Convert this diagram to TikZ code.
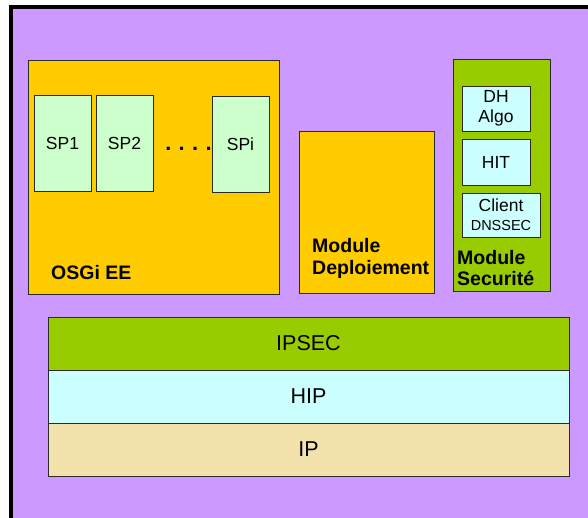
\documentclass[tikz,border=0pt]{standalone}
\usepackage{fontspec}
\setmainfont{Liberation Sans}
\usepackage{xcolor}
\definecolor{lilac}{HTML}{CC99FF}
\definecolor{amber}{HTML}{FFCC00}
\definecolor{mint}{HTML}{CCFFCC}
\definecolor{leaf}{HTML}{99CC00}
\definecolor{ice}{HTML}{CCFFFF}
\definecolor{sand}{HTML}{F3E2AC}
\definecolor{edge}{HTML}{2A2A2A}
\usepackage{tikz}
\usetikzlibrary{positioning}

\begin{document}
\begin{tikzpicture}[x=1pt, y=-1pt,
  box/.style={draw=edge, line width=0.9pt, inner sep=0pt, outer sep=0pt},
  spbox/.style={box, fill=mint, minimum width=57pt, minimum height=96pt,
    font=\fontsize{17.5}{20}\selectfont},
  secbox/.style={box, fill=ice, minimum height=45pt, align=center,
    font=\fontsize{17.5}{20}\selectfont},
  layer/.style={box, fill=#1, minimum width=521pt, minimum height=53pt,
    font=\fontsize{21.5}{24}\selectfont},
  tag/.style={inner sep=0pt, anchor=west, align=left,
    font=\fontsize{19.5}{21.5}\selectfont\bfseries}]
\useasboundingbox (0,0) rectangle (588,517);
\clip (0,0) rectangle (588,517);
% background frame
\fill[lilac] (11,7) rectangle (600,530);
\draw[line width=4pt] (11,530) -- (11,7) -- (600,7);

% OSGi execution environment
\node[box, fill=amber, minimum width=251pt, minimum height=234pt] (osgi) at (153.5,177) {};
\node[spbox] (sp1) at (62.5,143) {SP1};
\node[spbox] (sp2) at (124.5,143) {SP2};
\node[spbox] (spi) at (240.5,144) {SPi};
\node[inner sep=0pt, anchor=base, font=\fontsize{22}{24}\selectfont\bfseries] (dots) at (188.5,150) {.\,\,.\,\,.\,\,.};
\node[tag] (osgilbl) at (51,273) {OSGi EE};

% deployment module
\node[box, fill=amber, minimum width=135pt, minimum height=162pt] (deploy) at (366.5,212) {};
\node[tag] (deploylbl) at (312,258.5) {Module\\Deploiement};

% security module
\node[box, fill=leaf, minimum width=97pt, minimum height=232pt] (secu) at (501.5,175) {};
\node[secbox, minimum width=68pt] (dh) at (496,108.5) {DH\\Algo};
\node[secbox, minimum width=68pt, minimum height=46pt] (hit) at (496,162) {HIT};
\node[secbox, minimum width=78pt, minimum height=44pt] (client) at (501,215)
  {Client\\[-1pt]{\fontsize{14.5}{16}\selectfont DNSSEC}};
\node[tag] (seculbl) at (457,268) {Module\\Securité};

% protocol stack
\node[layer=leaf] (ipsec) at (308.5,343.5) {IPSEC};
\node[layer=ice, below=0pt of ipsec] (hip) {HIP};
\node[layer=sand, below=0pt of hip] (ip) {IP};
\end{tikzpicture}
\end{document}
